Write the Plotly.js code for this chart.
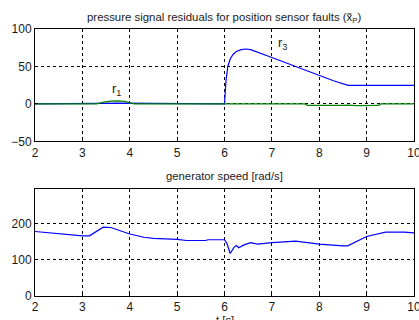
<!DOCTYPE html>
<html><head><meta charset="utf-8">
<script src="https://cdn.plot.ly/plotly-3.0.1.min.js"></script>
<style>html,body{margin:0;padding:0;background:#fff}#chart{width:419px;height:320px}</style>
</head><body><div id="chart"></div>
<script>
// residual r3 (blue)
const r3T = [2, 3, 3.3, 3.75, 4.2, 4.5, 4.52, 6, 6.03, 6.07, 6.12, 6.18, 6.25, 6.35, 6.45, 6.55, 7, 7.5, 8, 8.3, 8.61, 10];
const r3V = [0, 0, 0.8, 1.2, 1, 0.8, 0, 0, 30, 50, 60, 66, 70, 72.5, 73.3, 72.5, 62, 50, 37.6, 31, 24.7, 24.7];
// residual r1 (green)
const r1T = [2, 3.3, 3.45, 3.6, 3.75, 3.9, 4.0, 4.1, 7.7, 7.75, 8.5, 8.6, 8.8, 9.0, 9.25, 9.3, 10];
const r1V = [0, 0, 2.5, 3.8, 4.0, 3.5, 1.5, 0, 0, -1.8, -2, -1.5, -2.2, -1.8, -2, 0, 0];
// generator speed
const spT = [2, 2.5, 3, 3.15, 3.44, 3.6, 4, 4.3, 4.5, 5, 5.2, 5.6, 5.65, 6, 6.05, 6.12, 6.2, 6.25, 6.3, 6.4, 6.55, 6.7, 7, 7.5, 8, 8.5, 8.6, 9, 9.4, 9.8, 10];
const spV = [179, 172, 167, 167, 191, 190, 172, 163, 160, 157, 154, 154, 156, 156, 146, 118, 135, 140, 134, 141, 148, 144, 148, 152, 144, 139, 139, 165, 177, 177, 175];
const xTicks = [2, 3, 4, 5, 6, 7, 8, 9, 10];

const font = {family: 'Liberation Sans, Arial, sans-serif', color: '#1a1a1a'};
const axBase = {
  showline: true, mirror: true, linecolor: '#000', linewidth: 1,
  showgrid: true, gridcolor: '#000', griddash: '3px,3px', gridwidth: 1,
  zeroline: false, ticks: 'inside', ticklen: 3, tickcolor: '#000',
  ticklabeloverflow: 'allow',
  tickfont: Object.assign({size: 12}, font)
};
const traces = [
  {x: r3T, y: r3V, type: 'scatter', mode: 'lines', line: {color: '#0000ff', width: 1.2}, xaxis: 'x', yaxis: 'y', hoverinfo: 'skip'},
  {x: r1T, y: r1V, type: 'scatter', mode: 'lines', line: {color: '#008000', width: 1.3}, xaxis: 'x', yaxis: 'y', hoverinfo: 'skip'},
  {x: spT, y: spV, type: 'scatter', mode: 'lines', line: {color: '#0000ff', width: 1.2}, xaxis: 'x2', yaxis: 'y2', hoverinfo: 'skip'}
];
const layout = {
  width: 419, height: 320,
  margin: {l: 35, r: 5, t: 29, b: 24},
  paper_bgcolor: '#fff', plot_bgcolor: '#fff',
  showlegend: false,
  font: Object.assign({size: 12}, font),
  xaxis: Object.assign({}, axBase, {domain: [0, 1], range: [2, 10], tickvals: xTicks, anchor: 'y'}),
  yaxis: Object.assign({}, axBase, {domain: [0.579, 1], range: [-50, 100], tickvals: [-50, 0, 50, 100], anchor: 'x'}),
  xaxis2: Object.assign({}, axBase, {domain: [0, 1], range: [2, 10], tickvals: xTicks, anchor: 'y2'}),
  yaxis2: Object.assign({}, axBase, {domain: [0, 0.401], range: [0, 297], tickvals: [0, 100, 200], anchor: 'x2'}),
  annotations: [
    {text: 'pressure signal residuals for position sensor faults (x\u0303<sub>P</sub>)', xref: 'paper', yref: 'paper',
     x: 0.5, y: 1, yshift: 11, showarrow: false, font: Object.assign({size: 11.4}, font), xanchor: 'center', yanchor: 'middle'},
    {text: 'generator speed [rad/s]', xref: 'paper', yref: 'paper',
     x: 0.5, y: 0.401, yshift: 13, showarrow: false, font: Object.assign({size: 11.3}, font), xanchor: 'center', yanchor: 'middle'},
    {text: 't [s]', xref: 'paper', yref: 'paper', x: 0.5, y: 0, yshift: -16, showarrow: false,
     font: Object.assign({size: 11.3}, font), xanchor: 'center', yanchor: 'top'},
    {text: 'r<sub>1</sub>', xref: 'x', yref: 'y', x: 3.73, y: 19, showarrow: false, font: Object.assign({size: 13}, font)},
    {text: 'r<sub>3</sub>', xref: 'x', yref: 'y', x: 7.23, y: 80, showarrow: false, font: Object.assign({size: 13}, font)}
  ]
};
Plotly.newPlot('chart', traces, layout, {staticPlot: true, displayModeBar: false});
</script></body></html>
